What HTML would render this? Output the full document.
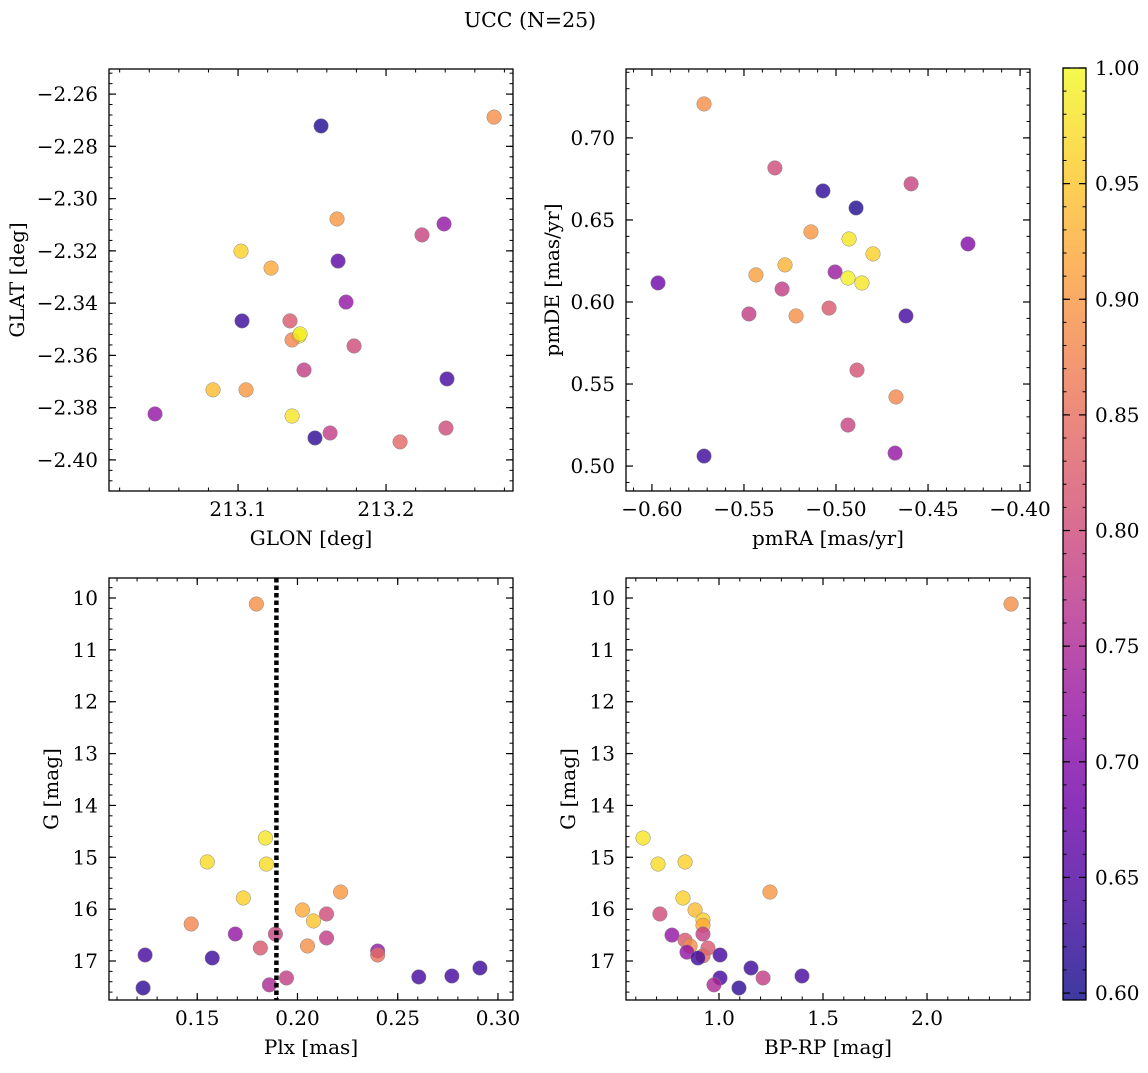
<!DOCTYPE html>
<html><head><meta charset="utf-8">
<style>
html,body{margin:0;padding:0;background:#fff;}
svg text{font-family:"DejaVu Serif","Liberation Serif",serif;fill:#000;}
</style></head>
<body>
<svg id="fig" width="1148" height="1068" xmlns="http://www.w3.org/2000/svg">
<defs>
<linearGradient id="cbg" x1="0" y1="1" x2="0" y2="0">
<stop offset="0" stop-color="#0d0887"/><stop offset="0.1" stop-color="#41049d"/><stop offset="0.2" stop-color="#6a00a8"/><stop offset="0.3" stop-color="#8f0da4"/><stop offset="0.4" stop-color="#b12a90"/><stop offset="0.5" stop-color="#cc4778"/><stop offset="0.6" stop-color="#e16462"/><stop offset="0.7" stop-color="#f2844b"/><stop offset="0.8" stop-color="#fca636"/><stop offset="0.9" stop-color="#fcce25"/><stop offset="1" stop-color="#f0f921"/>
</linearGradient>
</defs>
<text x="530" y="27" font-size="20.5" text-anchor="middle">UCC (N=25)</text>
</svg>
<script>
// Panel 1: GLON vs GLAT
const glon=[213.1561,213.273,213.1669,213.102,213.1223,213.2392,213.2243,213.1676,213.173,213.1027,213.1351,213.1412,213.1365,213.1784,213.1446,213.2412,213.0439,213.0831,213.1054,213.1365,213.2405,213.1622,213.152,213.2095,213.1419];
const glat=[-2.2722,-2.2688,-2.3078,-2.3201,-2.3266,-2.3097,-2.3139,-2.3239,-2.3396,-2.3468,-2.3468,-2.3526,-2.3541,-2.3564,-2.3656,-2.369,-2.3824,-2.3732,-2.3732,-2.3832,-2.3878,-2.3897,-2.3916,-2.3931,-2.3518];
const prob1=[0.61,0.89,0.90,0.96,0.92,0.72,0.79,0.66,0.72,0.63,0.82,1.0,0.88,0.80,0.78,0.64,0.72,0.94,0.90,0.98,0.80,0.78,0.62,0.84,0.99];
// Panel 2: pmRA vs pmDE
const pmra=[-0.5717,-0.5332,-0.4592,-0.5071,-0.4891,-0.5136,-0.4929,-0.4799,-0.4283,-0.5277,-0.5435,-0.5005,-0.4935,-0.4859,-0.5967,-0.5293,-0.5038,-0.5473,-0.5217,-0.462,-0.4886,-0.4674,-0.4935,-0.4679,-0.5717];
const pmde=[0.7207,0.6817,0.6720,0.6677,0.6573,0.6427,0.6384,0.6293,0.6354,0.6226,0.6165,0.6183,0.6146,0.6116,0.6116,0.6079,0.5963,0.5927,0.5915,0.5915,0.5585,0.5421,0.525,0.5079,0.5061];
const prob2=[0.89,0.80,0.79,0.62,0.61,0.90,0.98,0.96,0.70,0.93,0.91,0.73,0.99,0.98,0.68,0.78,0.82,0.78,0.89,0.64,0.81,0.88,0.79,0.72,0.63];
// Panel 3: Plx vs G
const plx=[0.1795,0.184,0.155,0.1845,0.2215,0.173,0.2025,0.208,0.2145,0.147,0.169,0.189,0.2145,0.205,0.1815,0.24,0.24,0.124,0.1575,0.1945,0.2605,0.277,0.291,0.186,0.123];
const gmag3=[10.116,14.628,15.09,15.13,15.67,15.785,16.016,16.228,16.093,16.286,16.479,16.479,16.556,16.71,16.749,16.807,16.884,16.884,16.942,17.327,17.308,17.289,17.135,17.46,17.52];
const prob3=[0.89,0.98,0.97,0.97,0.90,0.96,0.92,0.95,0.80,0.88,0.72,0.79,0.78,0.89,0.82,0.72,0.85,0.64,0.63,0.78,0.64,0.64,0.63,0.75,0.62];
const plxLine=[0.1895];
// Panel 4: BP-RP vs G
const bprp=[2.404,0.635,0.707,0.837,1.245,0.827,0.885,0.923,0.923,0.716,0.774,0.923,0.837,0.861,0.947,0.846,0.923,1.005,0.899,1.212,1.005,1.399,1.154,0.976,1.096];
const gmag4=[10.116,14.628,15.13,15.09,15.67,15.785,16.016,16.21,16.31,16.093,16.5,16.48,16.6,16.71,16.75,16.83,16.9,16.884,16.942,17.327,17.327,17.289,17.135,17.46,17.52];
const prob4=[0.89,0.98,0.97,0.96,0.90,0.96,0.94,0.96,0.92,0.80,0.72,0.78,0.82,0.89,0.82,0.72,0.84,0.64,0.63,0.78,0.64,0.64,0.63,0.75,0.62];
// tick labels
const p1xTicks=[213.1,213.2], p1yTicks=[-2.26,-2.28,-2.30,-2.32,-2.34,-2.36,-2.38,-2.40];
const p2xTicks=[-0.60,-0.55,-0.50,-0.45,-0.40], p2yTicks=[0.50,0.55,0.60,0.65,0.70];
const p3xTicks=[0.15,0.20,0.25,0.30], gTicks=[10,11,12,13,14,15,16,17];
const p4xTicks=[1.0,1.5,2.0];
const cbTicks=[0.60,0.65,0.70,0.75,0.80,0.85,0.90,0.95,1.00];

const NS="http://www.w3.org/2000/svg";
const svg=document.getElementById('fig');
const FS=20;
function mk(tag,attrs,parent){const e=document.createElementNS(NS,tag);for(const k in attrs)e.setAttribute(k,attrs[k]);(parent||svg).appendChild(e);return e;}
const stops=[[13,8,135],[65,4,157],[106,0,168],[143,13,164],[177,42,144],[204,71,120],[225,100,98],[242,132,75],[252,166,54],[252,206,37],[240,249,33]];
const CMIN=0.597,CMAX=1.0;
function cmap(v){let t=(v-CMIN)/(CMAX-CMIN);t=Math.max(0,Math.min(1,t))*10;const i=Math.min(9,Math.floor(t)),f=t-i;const a=stops[i],b=stops[i+1];return 'rgb('+a.map((c,k)=>Math.round(c+(b[k]-c)*f)).join(',')+')';}
function fmt(v,d){return (v<0?'\u2212':'')+Math.abs(v).toFixed(d);}

function panel(o){
  const g=mk('g',{});
  
  
  const sx=v=>o.x0+(v-o.xmin)/(o.xmax-o.xmin)*(o.x1-o.x0);
  const sy=o.yinv?(v=>o.y0+(v-o.ymin)/(o.ymax-o.ymin)*(o.y1-o.y0)):(v=>o.y1-(v-o.ymin)/(o.ymax-o.ymin)*(o.y1-o.y0));
  for(let i=0;i<o.xs.length;i++){
    const c=mk('circle',{cx:sx(o.xs[i]),cy:sy(o.ys[i]),r:7.3,fill:cmap(o.ps[i]),'fill-opacity':0.8,stroke:'#888','stroke-width':0.5},g);
    
    
  }
  if(o.vline){const l=mk('line',{x1:sx(o.vline[0]),x2:sx(o.vline[0]),y1:o.y0,y2:o.y1,stroke:'#000','stroke-width':4.5,'stroke-dasharray':'4.5,3'},g);
    
    }
  const eps=1e-9;
  for(let v=Math.ceil(o.xmin/o.xminor-eps)*o.xminor;v<=o.xmax+eps;v+=o.xminor){const X=sx(v);
    mk('line',{x1:X,x2:X,y1:o.y1,y2:o.y1-3.5,stroke:'#000','stroke-width':1},g);mk('line',{x1:X,x2:X,y1:o.y0,y2:o.y0+3.5,stroke:'#000','stroke-width':1},g);}
  for(let v=Math.ceil(o.ymin/o.yminor-eps)*o.yminor;v<=o.ymax+eps;v+=o.yminor){const Y=sy(v);
    mk('line',{x1:o.x0,x2:o.x0+3.5,y1:Y,y2:Y,stroke:'#000','stroke-width':1},g);mk('line',{x1:o.x1,x2:o.x1-3.5,y1:Y,y2:Y,stroke:'#000','stroke-width':1},g);}
  o.xt.forEach(v=>{const X=sx(v);
    mk('line',{x1:X,x2:X,y1:o.y1,y2:o.y1-7,stroke:'#000','stroke-width':1.2},g);mk('line',{x1:X,x2:X,y1:o.y0,y2:o.y0+7,stroke:'#000','stroke-width':1.2},g);
    const t=mk('text',{x:X,y:o.y1+25,'font-size':FS,'text-anchor':'middle'},g);t.textContent=fmt(v,o.xd);
    
    });
  o.yt.forEach(v=>{const Y=sy(v);
    mk('line',{x1:o.x0,x2:o.x0+7,y1:Y,y2:Y,stroke:'#000','stroke-width':1.2},g);mk('line',{x1:o.x1,x2:o.x1-7,y1:Y,y2:Y,stroke:'#000','stroke-width':1.2},g);
    const t=mk('text',{x:o.x0-11,y:Y+7,'font-size':FS,'text-anchor':'end'},g);t.textContent=fmt(v,o.yd);
    
    });
  const fr=mk('rect',{x:o.x0,y:o.y0,width:o.x1-o.x0,height:o.y1-o.y0,fill:'none',stroke:'#000','stroke-width':1.3},g);
  
  
  const xl=mk('text',{x:(o.x0+o.x1)/2,y:o.y1+54,'font-size':FS,'text-anchor':'middle'},g);xl.textContent=o.xlabel;
  
  
  const yx=o.ylx, yy=(o.y0+o.y1)/2;
  const yl=mk('text',{x:yx,y:yy,'font-size':FS,'text-anchor':'middle',transform:'rotate(-90 '+yx+' '+yy+')'},g);yl.textContent=o.ylabel;
  
  
}
panel({name:'glon-glat-panel',x0:109,x1:513,y0:69,y1:491,xmin:213.0128,xmax:213.2858,ymin:-2.4119,ymax:-2.2504,xs:glon,ys:glat,ps:prob1,xt:p1xTicks,yt:p1yTicks,xd:1,yd:2,xminor:0.02,yminor:0.004,xlabel:'GLON [deg]',ylabel:'GLAT [deg]',ylx:24});
panel({name:'pm-panel',x0:626,x1:1030,y0:69,y1:491,xmin:-0.6141,xmax:-0.3946,ymin:0.4848,ymax:0.742,xs:pmra,ys:pmde,ps:prob2,xt:p2xTicks,yt:p2yTicks,xd:2,yd:2,xminor:0.01,yminor:0.01,xlabel:'pmRA [mas/yr]',ylabel:'pmDE [mas/yr]',ylx:559});
panel({name:'plx-g-panel',x0:109,x1:513,y0:578,y1:1000,xmin:0.106,xmax:0.3075,ymin:9.614,ymax:17.752,yinv:true,xs:plx,ys:gmag3,ps:prob3,vline:plxLine,xt:p3xTicks,yt:gTicks,xd:2,yd:0,xminor:0.01,yminor:0.2,xlabel:'Plx [mas]',ylabel:'G [mag]',ylx:58});
panel({name:'cmd-panel',x0:626,x1:1030,y0:578,y1:1000,xmin:0.553,xmax:2.495,ymin:9.614,ymax:17.752,yinv:true,xs:bprp,ys:gmag4,ps:prob4,xt:p4xTicks,yt:gTicks,xd:1,yd:0,xminor:0.1,yminor:0.2,xlabel:'BP-RP [mag]',ylabel:'G [mag]',ylx:575});
(function(){
  const g=mk('g',{});
  
  
  const x0=1063,x1=1086,y0=68,y1=1000;
  const sy=v=>y1-(v-CMIN)/(CMAX-CMIN)*(y1-y0);
  mk('rect',{x:x0,y:y0,width:x1-x0,height:y1-y0,fill:'url(#cbg)','fill-opacity':0.8},g);
  for(let v=0.60;v<=1.0001;v+=0.01){const Y=sy(v);mk('line',{x1:x1,x2:x1-3.5,y1:Y,y2:Y,stroke:'#000','stroke-width':1},g);mk('line',{x1:x0,x2:x0+3.5,y1:Y,y2:Y,stroke:'#000','stroke-width':1},g);}
  cbTicks.forEach(v=>{const Y=sy(v);mk('line',{x1:x1,x2:x1-7,y1:Y,y2:Y,stroke:'#000','stroke-width':1.2},g);mk('line',{x1:x0,x2:x0+7,y1:Y,y2:Y,stroke:'#000','stroke-width':1.2},g);
    const t=mk('text',{x:x1+9,y:Y+7,'font-size':FS},g);t.textContent=v.toFixed(2);
    
    });
  mk('rect',{x:x0,y:y0,width:x1-x0,height:y1-y0,fill:'none',stroke:'#000','stroke-width':1.3},g);
})();
</script>
</body></html>
